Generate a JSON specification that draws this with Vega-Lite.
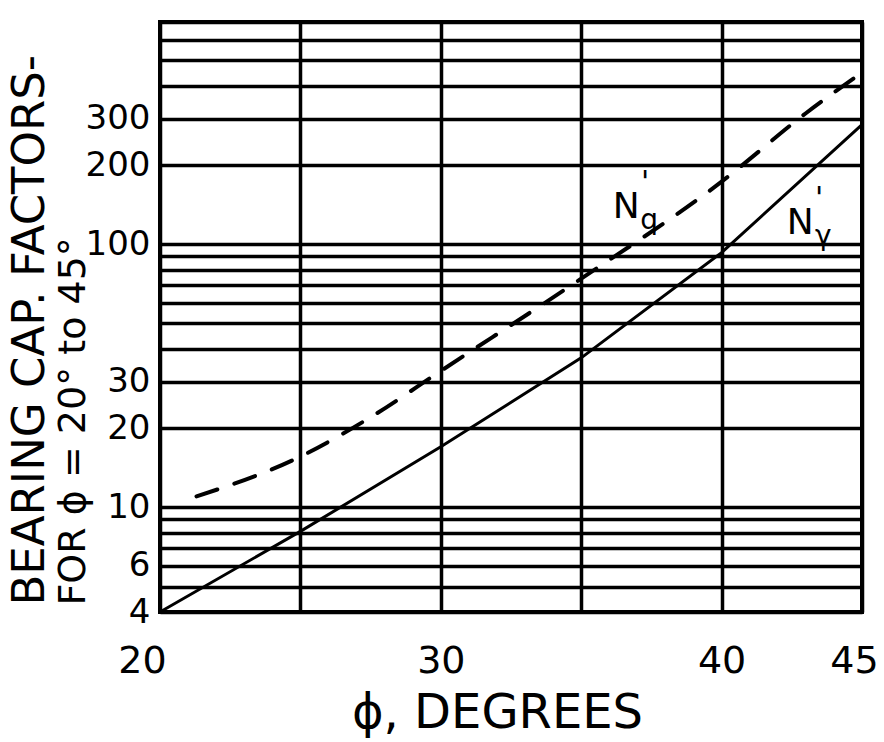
{
  "$schema": "https://vega.github.io/schema/vega-lite/v6.json",
  "width": 702,
  "height": 590,
  "autosize": {"type": "none"},
  "padding": {"left": 160, "top": 22, "right": 22, "bottom": 130},
  "background": "white",
  "config": {
    "view": {"stroke": "black", "strokeWidth": 4},
    "font": "DejaVu Sans",
    "axis": {
      "gridColor": "black",
      "gridWidth": 3.5,
      "gridOpacity": 1,
      "domain": false,
      "ticks": false,
      "labelColor": "black",
      "titleColor": "black",
      "labelFont": "DejaVu Sans",
      "titleFont": "DejaVu Sans",
      "titleFontWeight": "normal",
      "labelFlush": false,
      "labelOverlap": false
    }
  },
  "datasets": {
    "ngamma": [
      {"phi": 20, "value": 4},
      {"phi": 25, "value": 8.1},
      {"phi": 30, "value": 17},
      {"phi": 35, "value": 37},
      {"phi": 40, "value": 93},
      {"phi": 45, "value": 285}
    ],
    "nq": [
      {"phi": 21.3, "value": 11},
      {"phi": 25, "value": 15.6},
      {"phi": 27.5, "value": 22},
      {"phi": 30, "value": 33},
      {"phi": 35, "value": 74},
      {"phi": 40, "value": 173},
      {"phi": 43, "value": 315},
      {"phi": 45, "value": 450}
    ],
    "labels": [
      {"phi": 36.6, "value": 138, "main": "N", "sub": "q"},
      {"phi": 42.8, "value": 120, "main": "N", "sub": "γ"}
    ]
  },
  "encoding": {
    "x": {
      "field": "phi",
      "type": "quantitative",
      "scale": {"domain": [20, 45], "nice": false, "zero": false},
      "axis": {
        "values": [20, 25, 30, 35, 40, 45],
        "grid": true,
        "labelExpr": "datum.value == 25 || datum.value == 35 ? '' : format(datum.value, 'd')",
        "labelFontSize": 38,
        "labelPadding": 30,
        "labelOffset": {"condition": [{"test": "datum.value == 20", "value": -18}, {"test": "datum.value == 45", "value": -8}], "value": 0},
        "title": "ϕ, DEGREES",
        "titleFontSize": 48,
        "titleX": 337,
        "titleY": 101,
        "titleAlign": "center",
        "titleBaseline": "middle"
      }
    }
  },
  "layer": [
    {
      "data": {"name": "ngamma"},
      "mark": {"type": "line", "color": "black", "strokeWidth": 3, "strokeCap": "round"},
      "encoding": {
        "y": {
          "field": "value",
          "type": "quantitative",
          "scale": {"type": "log", "domain": [4, 700], "nice": false},
          "axis": {
            "orient": "left",
            "values": [4, 5, 6, 7, 8, 9, 10, 20, 30, 40, 50, 60, 70, 80, 90, 100, 200, 300, 400, 500, 600, 700],
            "grid": true,
            "labelExpr": "indexof([4, 6, 10, 20, 30, 100, 200, 300], datum.value) >= 0 ? format(datum.value, 'd') : ''",
            "labelFontSize": 34,
            "labelPadding": 10,
            "labelBaseline": "middle",
            "title": "BEARING CAP. FACTORS-",
            "titleFontSize": 45,
            "titleAngle": -90,
            "titleAlign": "left",
            "titleBaseline": "middle",
            "titleX": -131,
            "titleY": 583
          }
        }
      }
    },
    {
      "data": {"name": "nq"},
      "mark": {"type": "line", "color": "black", "strokeWidth": 4, "strokeDash": [22, 18], "strokeCap": "round", "interpolate": "monotone"},
      "encoding": {
        "y": {
          "field": "value",
          "type": "quantitative",
          "axis": {
            "orient": "left",
            "grid": false,
            "labels": false,
            "title": "FOR ϕ = 20° to 45°",
            "titleFontSize": 38,
            "titleAngle": -90,
            "titleAlign": "left",
            "titleBaseline": "middle",
            "titleX": -87,
            "titleY": 583
          }
        }
      }
    },
    {
      "data": {"name": "labels"},
      "mark": {"type": "text", "color": "black", "fontSize": 36, "align": "center", "baseline": "middle"},
      "encoding": {
        "y": {"field": "value", "type": "quantitative", "axis": null},
        "text": {"field": "main"}
      }
    },
    {
      "data": {"name": "labels"},
      "mark": {"type": "text", "color": "black", "fontSize": 28, "align": "center", "baseline": "middle", "dx": 23, "dy": 14},
      "encoding": {
        "y": {"field": "value", "type": "quantitative", "axis": null},
        "text": {"field": "sub"}
      }
    },
    {
      "data": {"name": "labels"},
      "mark": {"type": "text", "color": "black", "fontSize": 30, "align": "center", "baseline": "middle", "dx": 19, "dy": -24, "text": "'"},
      "encoding": {
        "y": {"field": "value", "type": "quantitative", "axis": null}
      }
    }
  ],
  "resolve": {"scale": {"y": "shared"}, "axis": {"y": "independent"}}
}
